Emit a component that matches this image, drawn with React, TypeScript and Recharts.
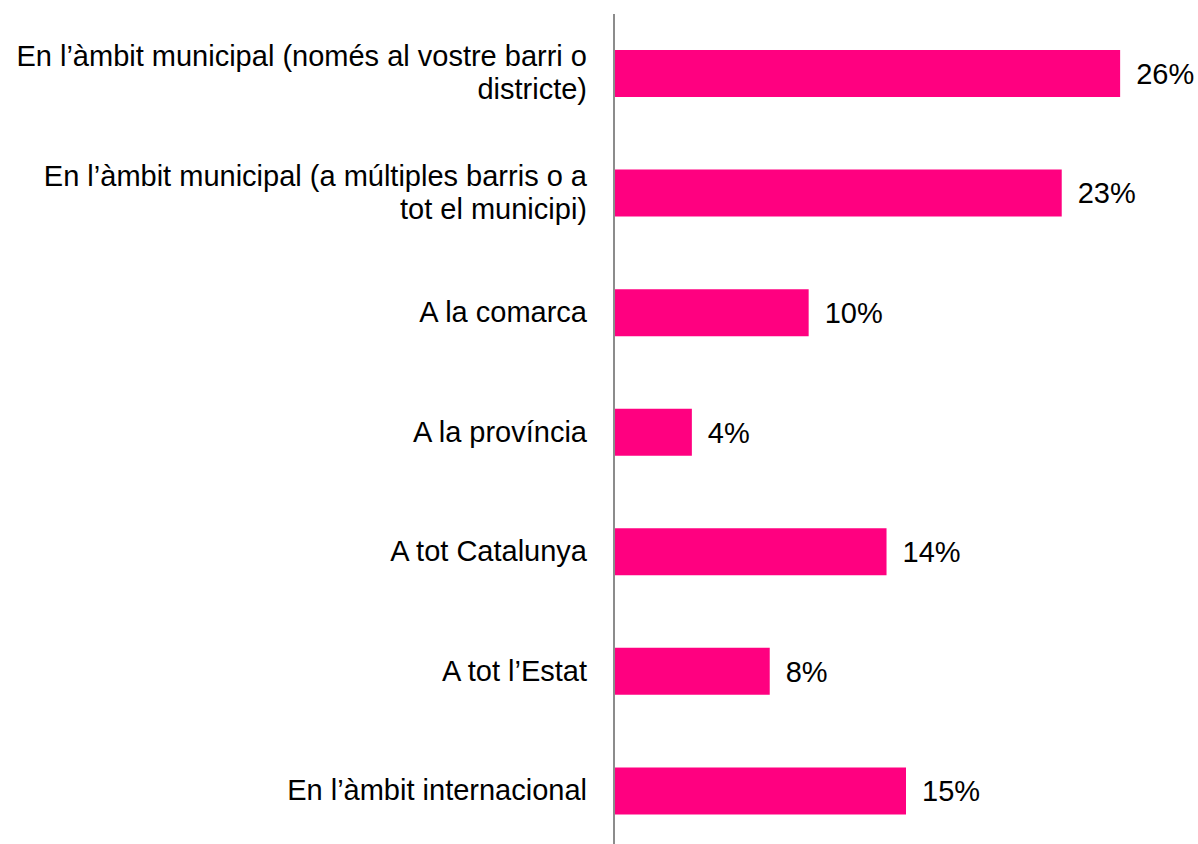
import { Bar, BarChart, LabelList, XAxis, YAxis } from 'recharts';

const categories = [
  'En l’àmbit municipal (només al vostre barri o districte)',
  'En l’àmbit municipal (a múltiples barris o a tot el municipi)',
  'A la comarca',
  'A la província',
  'A tot Catalunya',
  'A tot l’Estat',
  'En l’àmbit internacional',
];
const values = [26, 23, 10, 4, 14, 8, 15];

const data = categories.map((category, i) => ({ category, value: values[i] }));

const FONT = "'Liberation Sans', Arial, sans-serif";
const FONT_SIZE = 29;
const LINE_HEIGHT = 33;
const MAX_LABEL_WIDTH = 582;

let ctx: CanvasRenderingContext2D | null = null;
const measure = (s: string) => {
  if (!ctx) {
    ctx = document.createElement('canvas').getContext('2d');
  }
  if (!ctx) return s.length * FONT_SIZE * 0.5;
  ctx.font = `${FONT_SIZE}px ${FONT}`;
  return ctx.measureText(s).width;
};

// greedy word wrap
const wrap = (text: string) => {
  const lines: string[] = [];
  let current = '';
  text.split(' ').forEach((word) => {
    const next = current ? `${current} ${word}` : word;
    if (current && measure(next) > MAX_LABEL_WIDTH) {
      lines.push(current);
      current = word;
    } else {
      current = next;
    }
  });
  if (current) lines.push(current);
  return lines;
};

const CategoryTick = ({ y, payload }: any) => {
  const lines = wrap(payload.value);
  const firstBaseline = y + 9 - ((lines.length - 1) * LINE_HEIGHT) / 2;
  return (
    <text textAnchor="end" fontSize={FONT_SIZE} fontFamily={FONT} fill="#000">
      {lines.map((line, i) => (
        <tspan key={i} x={587} y={firstBaseline + i * LINE_HEIGHT}>
          {line}
        </tspan>
      ))}
    </text>
  );
};

const App = () => (
  <div style={{ position: 'absolute', top: 0, left: 0 }}>
    <BarChart
      width={1198}
      height={860}
      data={data}
      layout="vertical"
      margin={{ top: 14, right: 0, bottom: 9, left: 0 }}
    >
      <XAxis type="number" domain={[0, 30]} hide />
      <YAxis
        type="category"
        dataKey="category"
        width={614}
        axisLine={{ stroke: '#8c8c8c', strokeWidth: 2 }}
        tickLine={false}
        tick={<CategoryTick />}
        interval={0}
      />
      <Bar dataKey="value" fill="#FF0080" barSize={47} isAnimationActive={false}>
        <LabelList
          dataKey="value"
          position="right"
          offset={16}
          formatter={(v: any) => `${v}%`}
          style={{ fontSize: FONT_SIZE, fontFamily: FONT, fill: '#000' }}
        />
      </Bar>
    </BarChart>
  </div>
);

export default App;
